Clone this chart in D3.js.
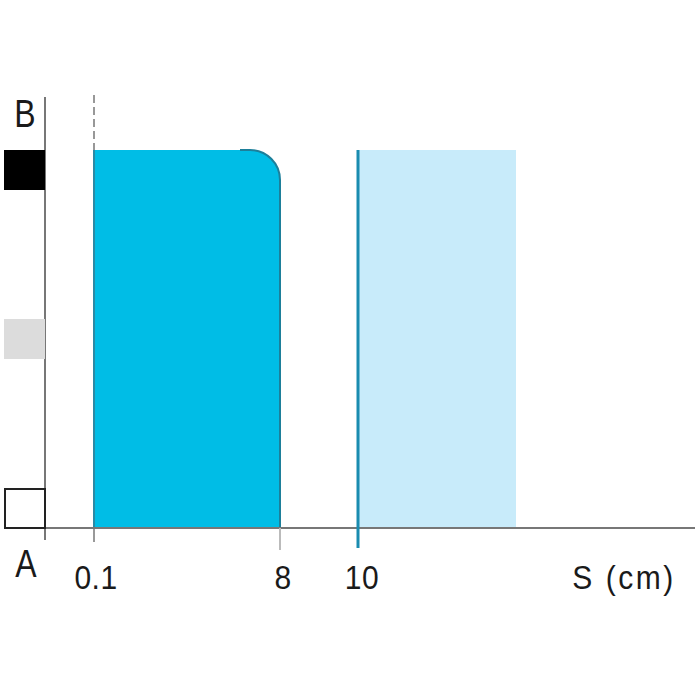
<!DOCTYPE html>
<html><head><meta charset="utf-8">
<script src="https://cdn.jsdelivr.net/npm/d3@7"></script>
<style>body{margin:0;background:#fff}svg{display:block}</style>
</head><body>
<svg id="c" width="700" height="700"></svg>
<script>
// Data
const xBreaks = [0, 0.1, 8, 10, 14, 20];          // distance S (cm), piecewise axis
const tickValues = [0.1, 8, 10];
const tickLabels = ["0.1", "8", "10"];
const axisTitle = "S (cm)";
const stateLabels = ["A", "B"];
const stateLevels = [0, 0.5, 1];                   // A, intermediate, B
const stateColors = ["#ffffff", "#dcdcdc", "#000000"];
const zoneOn = [0.1, 8];                           // output at B
const zoneHyst = [10, 14];                         // release zone

const svg = d3.select("#c");
const x = d3.scaleLinear().domain(xBreaks).range([45, 94, 280, 358, 516, 695]);
const y = d3.scaleLinear().domain([0, 1]).range([528, 150]);
const font = "'Liberation Sans', Arial, sans-serif";

function label(txt, cx, by, fs, sy, ls) {
  svg.append("text")
    .attr("transform", `translate(${cx},${by}) scale(1,${sy})`)
    .attr("text-anchor", "middle").attr("font-family", font).attr("font-size", fs)
    .attr("letter-spacing", ls || 0)
    .attr("fill", "#1a1a1a").text(txt);
}

// light blue zone
svg.append("rect").attr("x", x(zoneHyst[0])).attr("y", y(1))
  .attr("width", x(zoneHyst[1]) - x(zoneHyst[0])).attr("height", y(0) - y(1))
  .attr("fill", "#c8ebfa");

// main cyan zone with rounded top-right corner
const r = 30;
const x0 = x(zoneOn[0]), x1 = x(zoneOn[1]), yt = y(1), yb = y(0);
svg.append("path")
  .attr("d", `M${x0},${yb} L${x0},${yt} L${x1 - r},${yt} A${r},${r} 0 0 1 ${x1},${yt + r} L${x1},${yb} Z`)
  .attr("fill", "#00bde6");
svg.append("path")
  .attr("d", `M${x1 - r - 10},${yt} L${x1 - r},${yt} A${r},${r} 0 0 1 ${x1},${yt + r} L${x1},${yb}`)
  .attr("fill", "none").attr("stroke", "#1d7f9a").attr("stroke-width", 2);
svg.append("line").attr("x1", x0).attr("x2", x0).attr("y1", yt).attr("y2", yb)
  .attr("stroke", "#2a8aa5").attr("stroke-width", 2);

// dashed line above 0.1
svg.append("line").attr("x1", x(0.1)).attr("x2", x(0.1)).attr("y1", 95).attr("y2", yt)
  .attr("stroke", "#777").attr("stroke-width", 1.5).attr("stroke-dasharray", "8,4");

// axes
svg.append("line").attr("x1", x(0)).attr("x2", x(20)).attr("y1", y(0)).attr("y2", y(0))
  .attr("stroke", "#777").attr("stroke-width", 2);
svg.append("line").attr("x1", x(0)).attr("x2", x(0)).attr("y1", 97).attr("y2", 540)
  .attr("stroke", "#777").attr("stroke-width", 2);

// ticks
svg.append("line").attr("x1", x(0.1)).attr("x2", x(0.1)).attr("y1", y(0)).attr("y2", 542)
  .attr("stroke", "#777").attr("stroke-width", 1.5);
svg.append("line").attr("x1", x(8)).attr("x2", x(8)).attr("y1", y(0)).attr("y2", 550)
  .attr("stroke", "#bbb").attr("stroke-width", 2);
svg.append("line").attr("x1", x(10)).attr("x2", x(10)).attr("y1", y(1)).attr("y2", 548)
  .attr("stroke", "#1a8cb0").attr("stroke-width", 3);

// tick labels
const tickOffsets = [2, 3, 4];
tickValues.forEach((v, i) => label(tickLabels[i], x(v) + tickOffsets[i], 589, 30, 1.08, 0.5));
label(axisTitle, 624, 589, 30, 1.08, 2.5);

// state squares
stateLevels.forEach((v, i) => {
  const top = i === 0 ? y(v) - 39 : (i === 1 ? y(v) - 20 : y(v));
  svg.append("rect").attr("x", i === 0 ? 5 : 4).attr("y", top)
    .attr("width", i === 0 ? 40 : 41).attr("height", i === 0 ? 39 : 40)
    .attr("fill", stateColors[i])
    .attr("stroke", i === 0 ? "#222" : "none").attr("stroke-width", 2);
});

// state labels
label(stateLabels[1], 25, 127, 32, 1.2, 0);
label(stateLabels[0], 26, 577, 32, 1.2, 0);
</script>
</body></html>
